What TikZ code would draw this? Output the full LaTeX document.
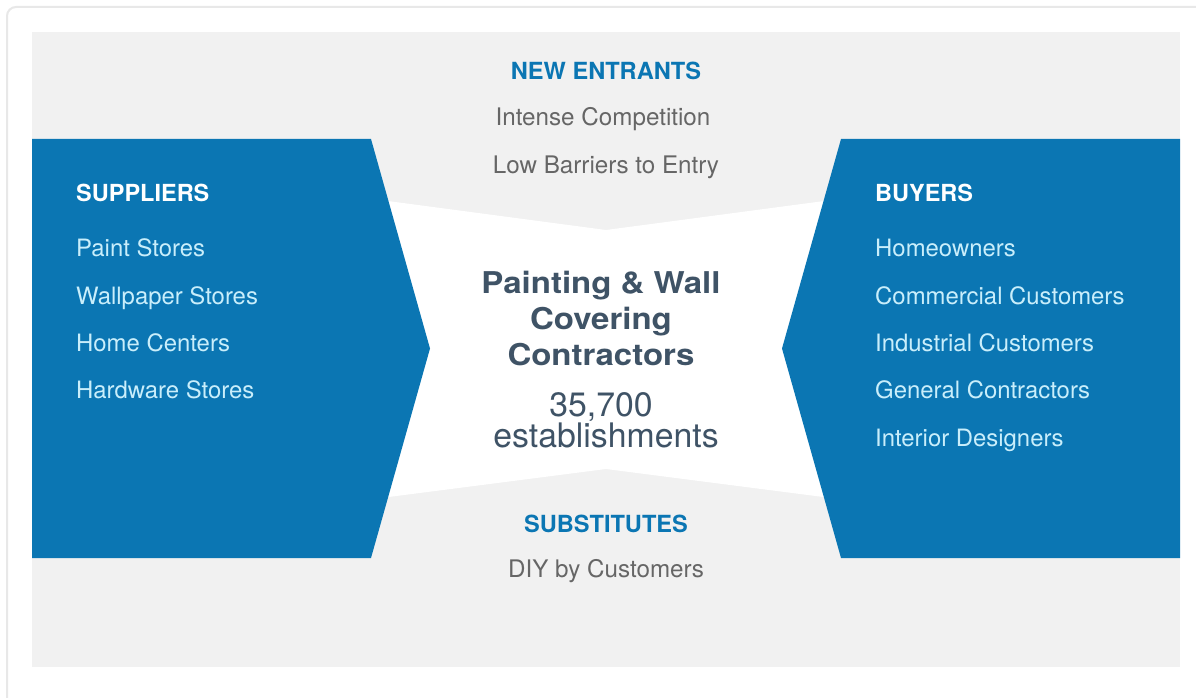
\documentclass[tikz,border=0pt]{standalone}
\usepackage{fontspec}
\setmainfont{TeX Gyre Heros}
\newfontfamily\titlefont[FakeStretch=1.1]{TeX Gyre Heros}
\definecolor{panelblue}{HTML}{0B76B3}
\definecolor{bggray}{HTML}{F1F1F1}
\definecolor{framegray}{HTML}{E8E8E8}
\definecolor{textgray}{HTML}{666666}
\definecolor{itemcyan}{HTML}{C9EEFB}
\definecolor{slate}{HTML}{3F5366}
\tikzset{
  heading/.style={font=\fontsize{23.6}{28}\selectfont\bfseries, text=panelblue, inner sep=0pt, anchor=base},
  force/.style={font=\fontsize{24.2}{28}\selectfont, text=textgray, inner sep=0pt, anchor=base},
  sidehead/.style={font=\fontsize{23.5}{28}\selectfont\bfseries, text=white, inner sep=0pt, anchor=base west},
  sideitem/.style={font=\fontsize{23.9}{28}\selectfont, text=itemcyan, inner sep=0pt, anchor=base west},
  titleline/.style={font=\titlefont\fontsize{30}{36}\selectfont\bfseries, text=slate, inner sep=0pt, anchor=base},
  countline/.style={font=\fontsize{33.8}{38}\selectfont, text=slate, inner sep=0pt, anchor=base},
}
\begin{document}
\begin{tikzpicture}[x=1pt,y=-1pt]
  \useasboundingbox (0,0) rectangle (1196,698);
  \clip (0,0) rectangle (1196,698);
  \fill[white] (0,0) rectangle (1196,698);
  % card outline
  \draw[framegray, line width=2pt, rounded corners=9pt] (7,7) rectangle (1230,740);
  % grey field
  \fill[bggray] (32,32) rectangle (1180,667);
  % white centre between the two arrows
  \fill[white] (360,197.3) -- (606,230) -- (852,197.3) -- (852,500.7) -- (606,469) -- (360,500.7) -- cycle;
  % supplier and buyer panels
  \fill[panelblue] (32,139) -- (371,139) -- (430,348.5) -- (371,558) -- (32,558) -- cycle;
  \fill[panelblue] (1180,139) -- (841,139) -- (782,348.5) -- (841,558) -- (1180,558) -- cycle;

  % new entrants
  \node[heading] (ne) at (606,80) {NEW ENTRANTS};
  \node[force] (ne1) at (603,125) {Intense Competition};
  \node[force] (ne2) at (606,173) {Low Barriers to Entry};

  % suppliers
  \node[sidehead] (sup) at (76,201) {SUPPLIERS};
  \node[sideitem] (sup1) at (76,256) {Paint Stores};
  \node[sideitem] (sup2) at (76,304) {Wallpaper Stores};
  \node[sideitem] (sup3) at (76,351) {Home Centers};
  \node[sideitem] (sup4) at (76,398.5) {Hardware Stores};

  % buyers
  \node[sidehead] (buy) at (875,201) {BUYERS};
  \node[sideitem] (buy1) at (875,256) {Homeowners};
  \node[sideitem] (buy2) at (875,304) {Commercial Customers};
  \node[sideitem] (buy3) at (875,351) {Industrial Customers};
  \node[sideitem] (buy4) at (875,398.5) {General Contractors};
  \node[sideitem] (buy5) at (875,446) {Interior Designers};

  % industry at the centre
  \node[titleline] (t1) at (601,293) {Painting \& Wall};
  \node[titleline] (t2) at (601,329.5) {Covering};
  \node[titleline] (t3) at (601,365) {Contractors};
  \node[countline] (c1) at (601,416.5) {35,700};
  \node[countline] (c2) at (606,447) {establishments};

  % substitutes
  \node[heading] (sb) at (606,532) {SUBSTITUTES};
  \node[force] (sb1) at (606,577) {DIY by Customers};
\end{tikzpicture}
\end{document}
